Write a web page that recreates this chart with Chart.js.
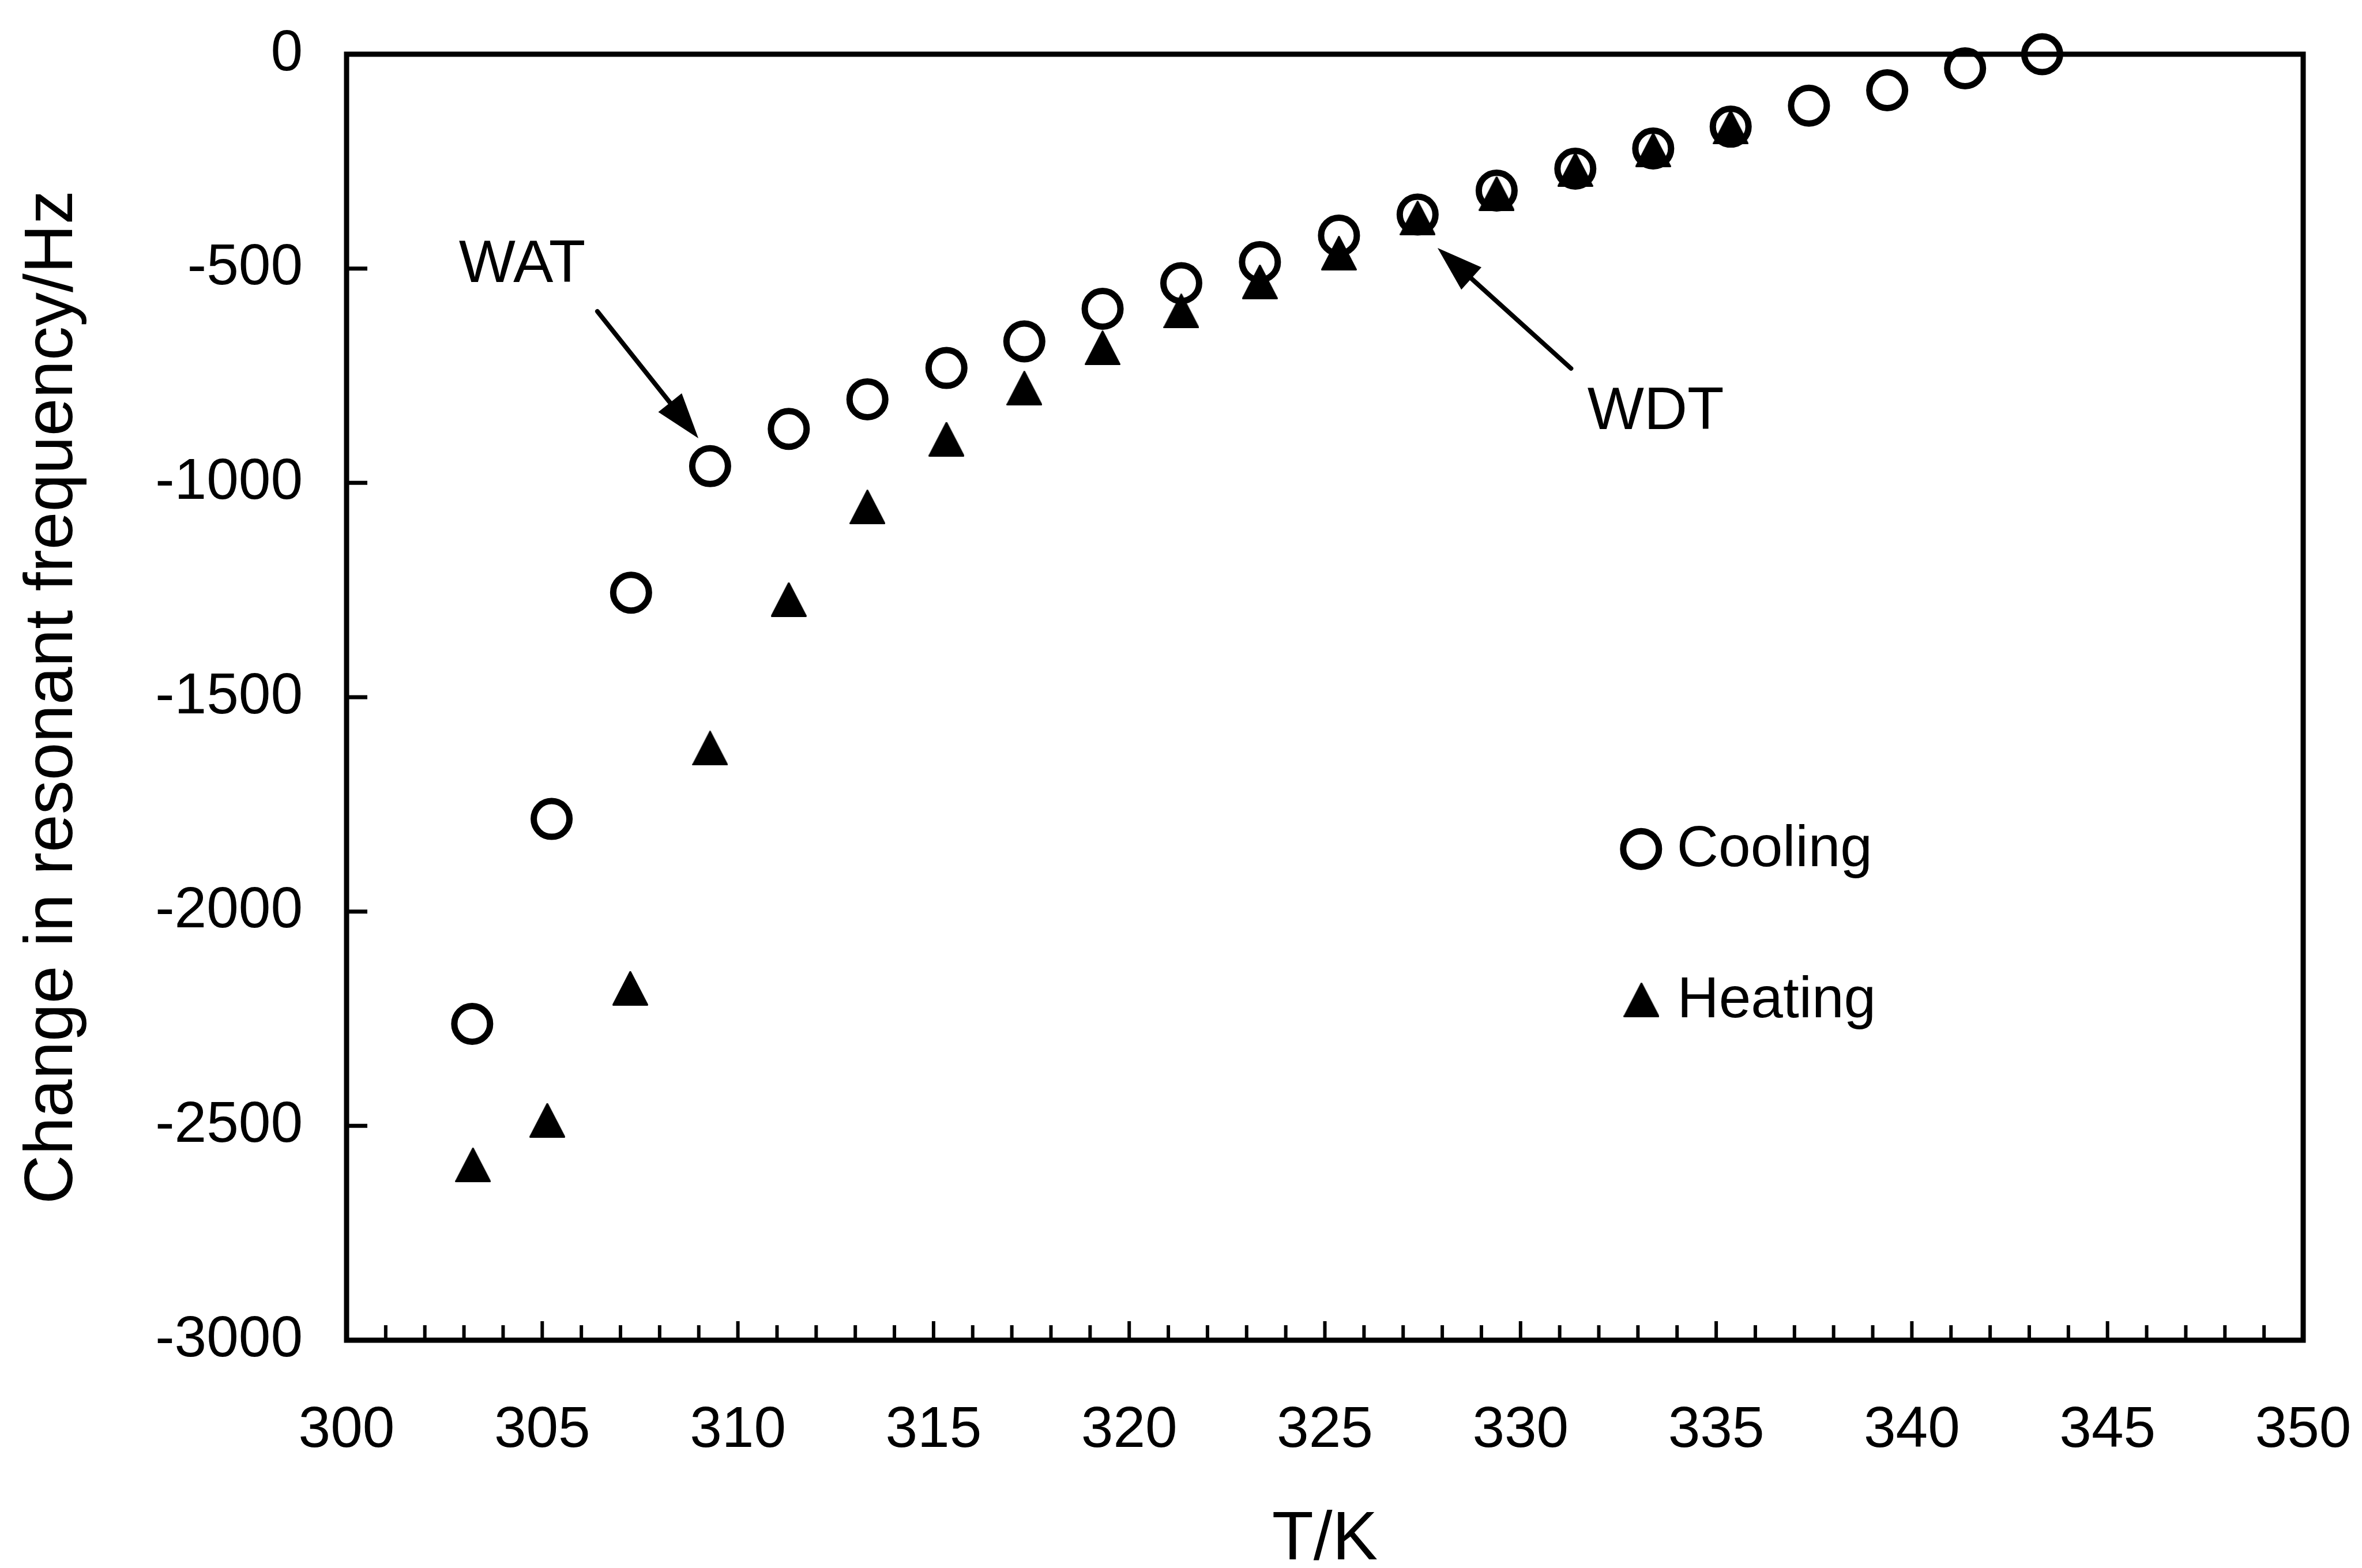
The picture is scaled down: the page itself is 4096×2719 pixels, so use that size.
<!DOCTYPE html>
<html>
<head>
<meta charset="utf-8">
<title>Change in resonant frequency vs T</title>
<script src="https://cdn.jsdelivr.net/npm/chart.js@4.4.1/dist/chart.umd.min.js"></script>
<style>
  html, body { margin: 0; padding: 0; background: #fff; }
  #wrap { width: 4096px; height: 2719px; position: relative; }
</style>
</head>
<body>
<div id="wrap"><canvas id="freq"></canvas></div>
<script>
// ---- data ------------------------------------------------------------------
const coolingT  = [303.21, 305.24, 307.27, 309.29, 311.30, 313.31, 315.33, 317.32, 319.32, 321.33,
                   323.34, 325.36, 327.37, 329.39, 331.40, 333.39, 335.37, 337.37, 339.37, 341.36, 343.33];
const coolingHz = [-2262, -1784, -1256, -961, -874, -805, -732, -670, -594, -534,
                   -485, -423, -374, -318, -267, -220, -169, -120, -84, -33, 0];

const heatingT  = [303.23, 305.13, 307.25, 309.29, 311.30, 313.31, 315.33, 317.32, 319.32, 321.33,
                   323.34, 325.36, 327.37, 329.39, 331.40, 333.39, 335.37];
const heatingHz = [-2591, -2487, -2179, -1619, -1272, -1056, -898, -779, -685, -599,
                   -531, -464, -382, -325, -269, -223, -170];

const xTickValues = [300, 305, 310, 315, 320, 325, 330, 335, 340, 345, 350];
const yTickValues = [0, -500, -1000, -1500, -2000, -2500, -3000];

// ---- look ------------------------------------------------------------------
const FONT = '"Liberation Sans", Arial, Helvetica, sans-serif';
const INK = '#000';

// annotation anchors in data units (T, Hz)
const notes = {
  wat: { text: 'WAT', at: [302.87, -531.6], from: [306.41, -600], to: [308.99, -896] },
  wdt: { text: 'WDT', at: [331.71, -874],   from: [331.29, -733], to: [327.88, -452] }
};
const legendItems = [
  { label: 'Cooling', style: 'circle',   at: [333.08, -1854] },
  { label: 'Heating', style: 'triangle', at: [333.09, -2206] }
];

// filled triangle, centred on its bounding box like the original markers
function triangleMarker(w, h) {
  const c = document.createElement('canvas');
  c.width = w; c.height = h;
  const g = c.getContext('2d');
  g.fillStyle = INK; g.strokeStyle = INK;
  g.lineWidth = 3; g.lineJoin = 'round';
  g.beginPath();
  g.moveTo(w / 2, 1.5);
  g.lineTo(w - 1.5, h - 1.5);
  g.lineTo(1.5, h - 1.5);
  g.closePath();
  g.fill(); g.stroke();
  return c;
}
const TRI = triangleMarker(62, 60);
const CIRCLE_R = 31, CIRCLE_W = 11;

function toPoints(xs, ys) {
  return xs.map((x, i) => ({ x, y: ys[i] }));
}

function arrow(ctx, x0, y0, x1, y1) {
  const ang = Math.atan2(y1 - y0, x1 - x0);
  const len = 79, half = 26;
  const bx = x1 - Math.cos(ang) * len, by = y1 - Math.sin(ang) * len;
  ctx.beginPath();
  ctx.moveTo(x0, y0);
  ctx.lineTo(bx + Math.cos(ang) * 10, by + Math.sin(ang) * 10);
  ctx.lineWidth = 8; ctx.lineCap = 'round';
  ctx.stroke();
  ctx.beginPath();
  ctx.moveTo(x1, y1);
  ctx.lineTo(bx + Math.sin(ang) * half, by - Math.cos(ang) * half);
  ctx.lineTo(bx - Math.sin(ang) * half, by + Math.cos(ang) * half);
  ctx.closePath();
  ctx.fill();
}

// frame box + inward tick marks
const framePlugin = {
  id: 'frame',
  beforeDatasetsDraw(chart) {
    const { ctx, chartArea: a, scales: { x, y } } = chart;
    ctx.save();
    ctx.strokeStyle = INK;
    ctx.lineWidth = 9;
    ctx.strokeRect(a.left, a.top, a.right - a.left, a.bottom - a.top);

    ctx.lineCap = 'butt';
    for (let t = 301; t < 350; t++) {
      const px = x.getPixelForValue(t);
      const major = t % 5 === 0;
      ctx.lineWidth = 6;
      ctx.beginPath();
      ctx.moveTo(px, a.bottom);
      ctx.lineTo(px, a.bottom - (major ? 33 : 26));
      ctx.stroke();
    }
    for (const v of yTickValues.slice(1, -1)) {
      const py = y.getPixelForValue(v);
      ctx.lineWidth = 7;
      ctx.beginPath();
      ctx.moveTo(a.left, py);
      ctx.lineTo(a.left + 36, py);
      ctx.stroke();
    }
    ctx.restore();
  },
  afterDatasetsDraw(chart) {
    const { ctx, scales: { x, y } } = chart;
    const P = p => [x.getPixelForValue(p[0]), y.getPixelForValue(p[1])];
    ctx.save();
    ctx.fillStyle = INK; ctx.strokeStyle = INK;
    ctx.textBaseline = 'alphabetic';

    // WAT / WDT call-outs
    ctx.font = `104px ${FONT}`;
    for (const n of Object.values(notes)) {
      const [tx, ty] = P(n.at);
      ctx.fillText(n.text, tx, ty);
      const [ax, ay] = P(n.from), [bx, by] = P(n.to);
      arrow(ctx, ax, ay, bx, by);
    }

    // legend, sitting inside the plot
    ctx.font = `100px ${FONT}`;
    for (const item of legendItems) {
      const [cx, cy] = P(item.at);
      if (item.style === 'circle') {
        ctx.lineWidth = CIRCLE_W;
        ctx.beginPath();
        ctx.arc(cx, cy, CIRCLE_R, 0, Math.PI * 2);
        ctx.stroke();
      } else {
        ctx.drawImage(TRI, cx - TRI.width / 2, cy - TRI.height / 2);
      }
      ctx.fillText(item.label, cx + 62, cy + 30);
    }
    ctx.restore();
  }
};

const AREA = { left: 601, right: 3994, top: 94, bottom: 2324 };
const W = 4096, H = 2719;

new Chart(document.getElementById('freq'), {
  type: 'scatter',
  data: {
    datasets: [
      {
        label: 'Cooling',
        data: toPoints(coolingT, coolingHz),
        pointStyle: 'circle',
        pointRadius: CIRCLE_R,
        pointBorderWidth: CIRCLE_W,
        pointBorderColor: INK,
        pointBackgroundColor: 'rgba(0,0,0,0)',
        showLine: false,
        clip: false
      },
      {
        label: 'Heating',
        data: toPoints(heatingT, heatingHz),
        pointStyle: TRI,
        pointRadius: 30,
        pointBorderWidth: 0,
        showLine: false,
        clip: false
      }
    ]
  },
  options: {
    responsive: true,
    maintainAspectRatio: false,
    devicePixelRatio: 1,
    animation: false,
    events: [],
    layout: { padding: { left: 0, top: AREA.top, right: W - AREA.right, bottom: 0 } },
    plugins: {
      legend: { display: false },
      tooltip: { enabled: false }
    },
    scales: {
      x: {
        type: 'linear',
        min: 300, max: 350,
        grid: { display: false, drawTicks: false },
        border: { display: false },
        afterBuildTicks: s => { s.ticks = xTickValues.map(v => ({ value: v })); },
        afterFit: s => { s.height = H - AREA.bottom; s.paddingLeft = 0; s.paddingRight = 0; },
        ticks: {
          autoSkip: false, maxRotation: 0, padding: 97,
          color: INK, font: { family: FONT, size: 100 },
          callback: v => String(v)
        },
        title: {
          display: true, text: 'T/K', color: INK,
          font: { family: FONT, size: 118, lineHeight: 0.8 },
          padding: { top: 0, bottom: 0 }
        }
      },
      y: {
        type: 'linear',
        min: -3000, max: 0,
        grid: { display: false, drawTicks: false },
        border: { display: false },
        afterBuildTicks: s => { s.ticks = yTickValues.map(v => ({ value: v })); },
        afterFit: s => { s.width = AREA.left; s.paddingTop = 0; s.paddingBottom = 0; },
        ticks: {
          padding: 76,
          color: INK, font: { family: FONT, size: 100 },
          callback: v => String(v)
        },
        title: {
          display: true, text: 'Change in resonant frequency/Hz', color: INK,
          font: { family: FONT, size: 118, lineHeight: 1 },
          padding: { top: 33, bottom: 0 }
        }
      }
    }
  },
  plugins: [framePlugin]
});
</script>
</body>
</html>
